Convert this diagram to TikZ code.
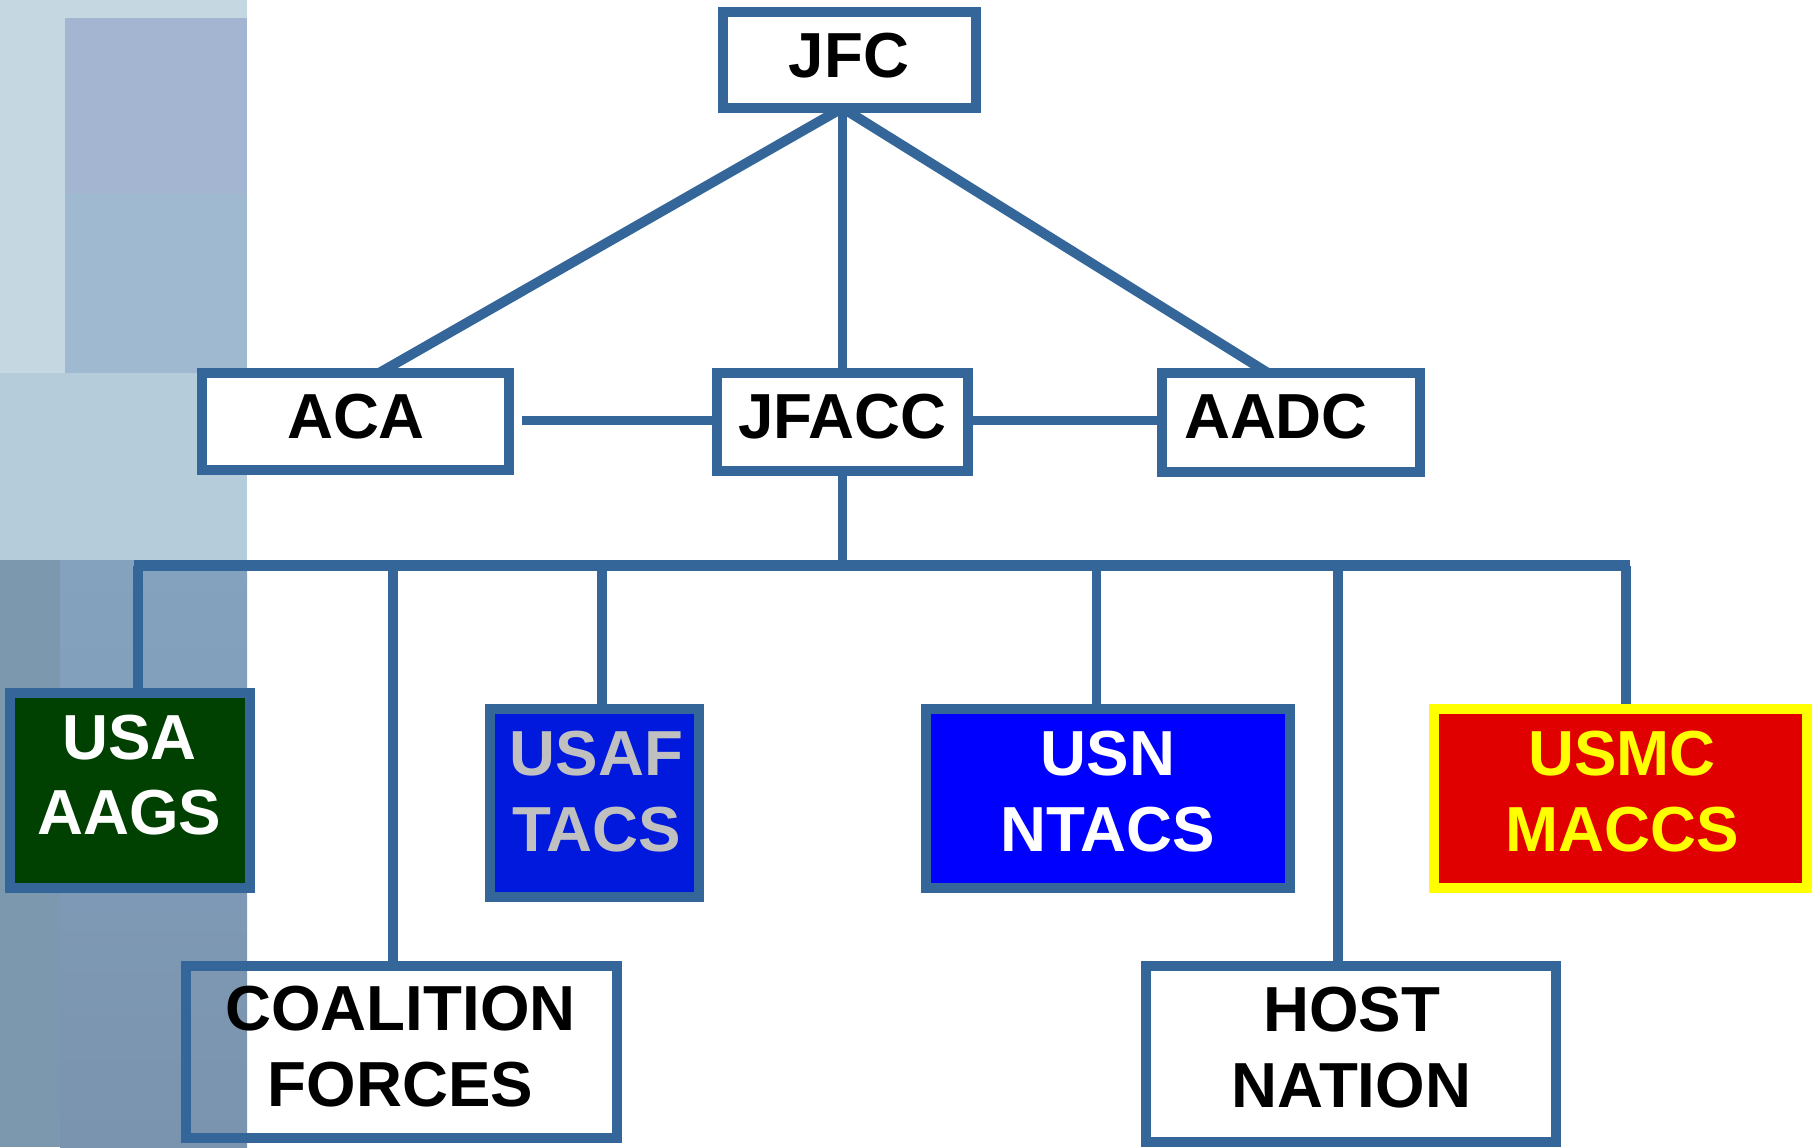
\documentclass[tikz,border=0pt]{standalone}
\usepackage{fontspec}
\setmainfont{Liberation Sans}
\pgfdeclarelayer{bg}
\pgfdeclarelayer{mid}
\pgfsetlayers{bg,mid,main}
\definecolor{bord}{RGB}{52,102,153}
\definecolor{usagreen}{RGB}{0,64,0}
\definecolor{usafblue}{RGB}{0,25,220}
\definecolor{usnblue}{RGB}{0,0,255}
\definecolor{usmcred}{RGB}{224,0,0}
\definecolor{usmcyellow}{RGB}{255,255,0}
\definecolor{usaftext}{RGB}{192,192,192}
\definecolor{bgA}{HTML}{C5D8E2}
\definecolor{bgB}{HTML}{A3B5D1}
\definecolor{bgC}{HTML}{9FBAD0}
\definecolor{bgD}{HTML}{B5CCDB}
\definecolor{bgE}{HTML}{7C98AF}
\definecolor{bgF}{HTML}{84A2BE}
\definecolor{bgG}{HTML}{7A93AE}
\tikzset{
  conn/.style={draw=bord, line width=2.8pt},
  busline/.style={draw=bord, line width=3.1pt},
  boxn/.style={draw=bord, line width=2.8pt, rectangle, inner sep=0pt, outer sep=0pt},
  lbl/.style={font=\fontsize{18.1}{21.5}\selectfont\bfseries, align=center, inner sep=0pt},
}
\begin{document}
\begin{tikzpicture}[x=0.01cm,y=-0.01cm]
\useasboundingbox (0,0) rectangle (1812,1147);
% background strip
\begin{pgfonlayer}{bg}
\fill[white] (0,0) rectangle (1812,1147);
\fill[bgA] (0,0) rectangle (247,373);
\fill[bgB] (65,18) rectangle (247,194);
\fill[bgC] (65,194) rectangle (247,373);
\fill[bgD] (0,373) rectangle (247,560);
\fill[bgE] (0,560) rectangle (60,1147);
\shade[top color=bgF, bottom color=bgG] (60,560) rectangle (247,1147);
\end{pgfonlayer}
% boxes
\node[boxn, fill=white, minimum width=2.53cm, minimum height=0.96cm] (jfc) at (849.5,60) {};
\node[boxn, fill=white, minimum width=3.07cm, minimum height=0.97cm] (aca) at (355.5,421.5) {};
\node[boxn, fill=white, minimum width=2.51cm, minimum height=0.98cm] (jfacc) at (842.5,422) {};
\node[boxn, fill=white, minimum width=2.58cm, minimum height=0.99cm] (aadc) at (1291,422.5) {};
\node[boxn, fill=usagreen, minimum width=2.40cm, minimum height=1.95cm] (usa) at (130,790.5) {};
\node[boxn, fill=usafblue, minimum width=2.09cm, minimum height=1.88cm] (usaf) at (594.5,803) {};
\node[boxn, fill=usnblue, minimum width=3.64cm, minimum height=1.79cm] (usn) at (1108,798.5) {};
\node[boxn, draw=usmcyellow, fill=usmcred, minimum width=3.73cm, minimum height=1.79cm] (usmc) at (1620.5,798.5) {};
\node[boxn, minimum width=4.31cm, minimum height=1.72cm] (coal) at (401.5,1052) {};
\node[boxn, fill=white, minimum width=4.10cm, minimum height=1.76cm] (host) at (1351,1054) {};
% labels
\node[lbl] (tjfc) at (849,56) {JFC};
\node[lbl] (taca) at (356,416.5) {ACA};
\node[lbl] (tjfacc) at (842.5,416.5) {JFACC};
\node[lbl] (taadc) at (1276,416.5) {AADC};
\node[lbl, text=white] (tusa) at (129.5,775) {USA\\AAGS};
\node[lbl, text=usaftext] (tusaf) at (596.5,791.5) {USAF\\TACS};
\node[lbl, text=white] (tusn) at (1108,791.5) {USN\\NTACS};
\node[lbl, text=usmcyellow] (tusmc) at (1622,791.5) {USMC\\MACCS};
\node[lbl] (tcoal) at (400.5,1046.5) {COALITION\\FORCES};
\node[lbl] (thost) at (1351.5,1047.5) {HOST\\NATION};
% connectors
\coordinate (midrow) at (0,420.5);
\coordinate (busL) at (134,565.5);
\coordinate (busR) at (1630,565.5);
\coordinate (dusa) at (138,565.5);
\coordinate (dcoal) at (393,565.5);
\coordinate (dusaf) at (602,565.5);
\coordinate (dusn) at (1096.5,565.5);
\coordinate (dhost) at (1338,565.5);
\coordinate (dusmc) at (1626,565.5);
\begin{pgfonlayer}{mid}
\draw[conn] (jfacc |- jfc.south) -- ([xshift=0.235cm]aca.north);
\draw[conn] (jfacc |- jfc.south) -- (jfacc.north);
\draw[conn] (jfacc |- jfc.south) -- ([xshift=-0.23cm]aadc.north);
\draw[conn] ([xshift=0.13cm]aca.east |- midrow) -- (jfacc.west |- midrow);
\draw[conn] (jfacc.east |- midrow) -- (aadc.west |- midrow);
\draw[conn] (jfacc.south) -- (jfacc |- busL);
\draw[busline] (busL) -- (busR);
\draw[conn] (dusa) -- (dusa |- usa.north);
\draw[conn] (dcoal) -- (dcoal |- coal.north);
\draw[conn] (dusaf) -- (dusaf |- usaf.north);
\draw[conn] (dusn) -- (dusn |- usn.north);
\draw[conn] (dhost) -- (dhost |- host.north);
\draw[conn] (dusmc) -- (dusmc |- usmc.north);
\end{pgfonlayer}
\end{tikzpicture}
\end{document}
